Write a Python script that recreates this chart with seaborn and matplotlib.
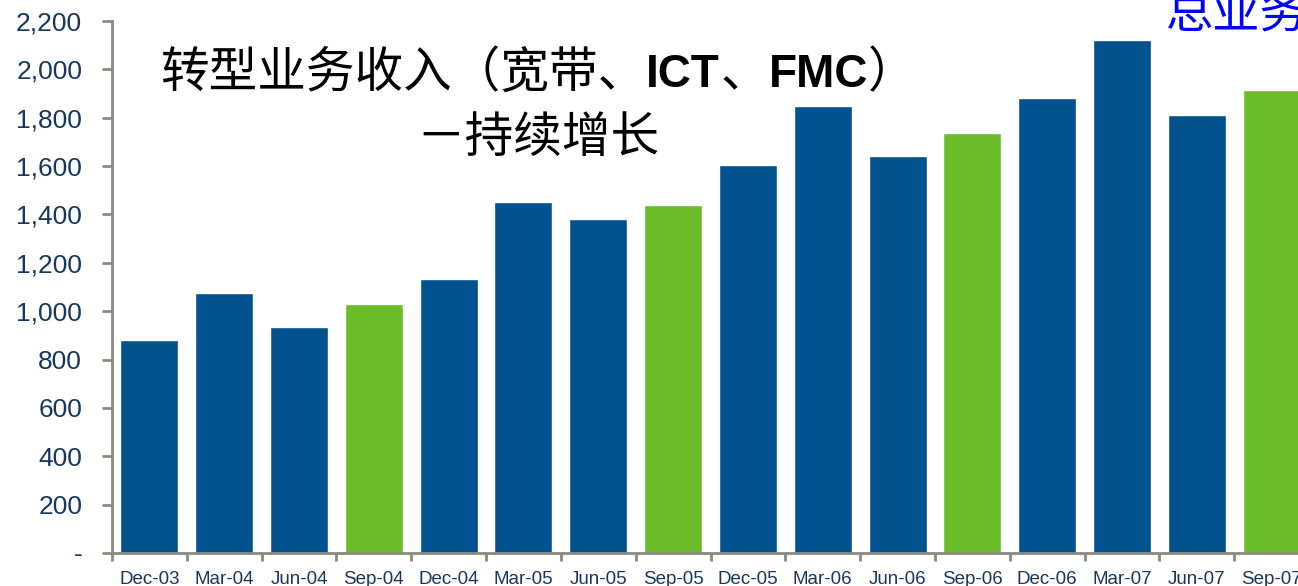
import matplotlib
matplotlib.use("Agg")
import matplotlib.pyplot as plt
import seaborn as sns
import pandas as pd
from matplotlib.ticker import FixedLocator, FuncFormatter

# Quarterly revenue from transformation business (broadband, ICT, FMC)
quarters = ["Dec-03", "Mar-04", "Jun-04", "Sep-04", "Dec-04", "Mar-05", "Jun-05", "Sep-05",
            "Dec-05", "Mar-06", "Jun-06", "Sep-06", "Dec-06", "Mar-07", "Jun-07", "Sep-07"]
revenue = [880, 1075, 935, 1030, 1135, 1450, 1380, 1440,
           1605, 1850, 1640, 1735, 1880, 2120, 1810, 1915]
# September quarters are highlighted in green
highlight = [q.startswith("Sep") for q in quarters]

title_parts = [("转型业务收入（宽带、", "cjk"), ("ICT", "latin"), ("、", "cjk"),
               ("FMC", "latin"), ("）", "cjk")]
subtitle = "－持续增长"
side_note = "总业务收入"

BLUE = "#02528F"
GREEN = "#6ABD28"
AXIS_GREY = "#8A8A7E"
LABEL_NAVY = "#17375E"

sns.set_theme(style="white")
plt.rcParams["font.family"] = ["Liberation Sans", "DejaVu Sans"]

df = pd.DataFrame({"quarter": quarters, "revenue": revenue})
palette = {q: (GREEN if h else BLUE) for q, h in zip(quarters, highlight)}

W, H, DPI = 1298, 586, 100
fig = plt.figure(figsize=(W / DPI, H / DPI), dpi=DPI)
ax = fig.add_axes([112 / W, 33 / H, 1197 / W, 532 / H])

sns.barplot(data=df, x="quarter", y="revenue", hue="quarter", palette=palette,
            order=quarters, width=0.775, saturation=1, legend=False, ax=ax)

ax.set_xlim(-0.5, len(quarters) - 0.5)
ax.set_ylim(0, 2200)
ax.set_xlabel("")
ax.set_ylabel("")

for side in ("top", "right"):
    ax.spines[side].set_visible(False)
for side in ("left", "bottom"):
    ax.spines[side].set_color(AXIS_GREY)
    ax.spines[side].set_linewidth(2.0)

ax.yaxis.set_major_locator(FixedLocator(range(0, 2201, 200)))
ax.yaxis.set_major_formatter(FuncFormatter(lambda v, p: "-" if v == 0 else f"{int(v):,}"))
ax.tick_params(axis="y", which="major", direction="out", length=7.5, width=2.0,
               color=AXIS_GREY, labelcolor=LABEL_NAVY, labelsize=19, pad=14, left=True)

# category labels at bar centres, tick marks at category boundaries
ax.set_xticks(range(len(quarters)))
ax.set_xticklabels(quarters)
ax.xaxis.set_minor_locator(FixedLocator([i - 0.5 for i in range(len(quarters) + 1)]))
ax.tick_params(axis="x", which="major", length=0, labelcolor=LABEL_NAVY,
               labelsize=13.5, pad=13)
ax.tick_params(axis="x", which="minor", direction="out", length=6, width=2.0,
               color=AXIS_GREY, bottom=True)
ax.grid(False)

# two-line heading, mixing CJK text with bold Latin acronyms
renderer = fig.canvas.get_renderer()
x_px = 160
base_y = 1 - 87 / H
for text, kind in title_parts:
    if kind == "cjk":
        t = fig.text(x_px / W, base_y, text, fontsize=35, color="black", va="baseline",
                     ha="left", family=["Noto Sans CJK SC", "DejaVu Sans"])
    else:
        t = fig.text(x_px / W, base_y, text, fontsize=33, color="black", va="baseline",
                     ha="left", fontweight="bold", family=["Liberation Sans", "DejaVu Sans"])
    bb = t.get_window_extent(renderer)
    x_px = bb.x1

fig.text(538 / W, 1 - 138 / H, subtitle, fontsize=35, color="black", ha="center",
         va="center", family=["Noto Sans CJK SC", "DejaVu Sans"])

fig.text(1166 / W, 1 - 15 / H, side_note, fontsize=34, color="#0000FF", ha="left",
         va="center", family=["Noto Sans CJK SC", "DejaVu Sans"])

fig.savefig("out.png", dpi=DPI)
